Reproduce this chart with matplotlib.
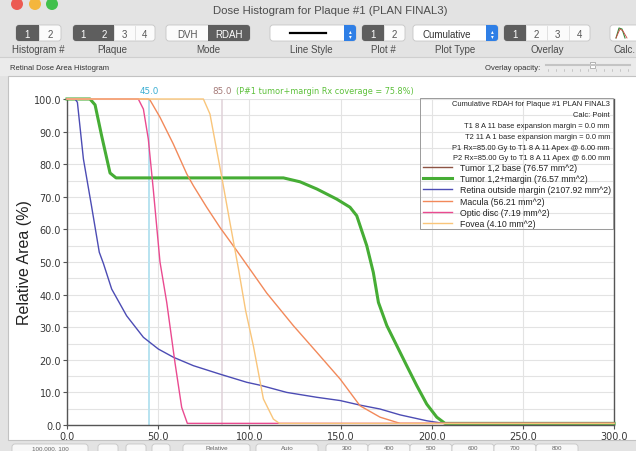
import matplotlib
matplotlib.use('Agg')
import matplotlib.pyplot as plt
from matplotlib.patches import FancyBboxPatch, Rectangle, Circle

# cumulative RDAH, dose (Gy) vs relative area (%)
base_dose = [0, 12.6, 15.4, 19, 23.6, 26.9, 118.7, 127.8, 137, 147.9, 155.2, 158.9,
             164.4, 168, 170.8, 175.4, 180.9, 186.3, 191.8, 197.3, 202.8, 207.3, 300]
base_area = [100, 100, 98.2, 88.7, 77.3, 75.8, 75.8, 74.6, 72.4, 69.3, 66.8, 64.2,
             55, 46.8, 37.6, 30.5, 24.3, 18.2, 12.1, 6.4, 2.4, 0.5, 0.5]

margin_dose = [0, 12.6, 15.4, 19, 23.6, 26.9, 118.7, 127.8, 137, 147.9, 155.2, 158.9,
               164.4, 168, 170.8, 175.4, 180.9, 186.3, 191.8, 197.3, 202.8, 207.3, 300]
margin_area = [100, 100, 98.2, 88.7, 77.3, 75.8, 75.8, 74.6, 72.4, 69.3, 66.8, 64.2,
               55, 46.8, 37.6, 30.5, 24.3, 18.2, 12.1, 6.4, 2.4, 0.5, 0.5]

retina_dose = [0, 4.4, 5.7, 9, 13.5, 17.7, 20, 24.5, 32.7, 41.9, 50.1, 58.3, 69.3, 83.9,
               98.6, 105.9, 120.5, 137, 149.8, 160.7, 171.7, 182.7, 197.3, 206.4, 300]
retina_area = [100, 100, 99, 81.6, 67, 53, 49.5, 41.7, 33.5, 26.9, 23.3, 20.8, 18.2, 15.6,
               13.1, 12.2, 10.0, 8.5, 7.5, 6.1, 4.9, 3.1, 1.3, 0.5, 0.5]

macula_dose = [0, 44.6, 45.5, 51, 58.3, 65.7, 69.3, 76.6, 83.9, 93.1, 102.2, 109.5,
               124.1, 137, 149.8, 160.7, 171.7, 182.7, 300]
macula_area = [100, 100, 99.7, 94.4, 86.2, 77, 73.4, 66.8, 60.6, 53.5, 46.3, 40.5,
               30.5, 22.3, 14.1, 5.9, 2.4, 0.5, 0.5]

disc_dose = [0, 39.1, 41.9, 44.6, 47.3, 51, 54.7, 59.2, 62.9, 66, 300]
disc_area = [100, 100, 96.9, 87.7, 72.4, 50, 37.6, 19.2, 5.4, 0.5, 0.5]

fovea_dose = [0, 74.8, 78.4, 84.9, 89.4, 94, 98, 102.2, 107.7, 113.2, 116.5, 300]
fovea_area = [100, 100, 95.4, 76, 62, 48, 35, 24.3, 8, 1.8, 0.5, 0.5]

labels = ['Tumor 1,2 base (76.57 mm^2)', 'Tumor 1,2+margin (76.57 mm^2)',
          'Retina outside margin (2107.92 mm^2)', 'Macula (56.21 mm^2)',
          'Optic disc (7.19 mm^2)', 'Fovea (4.10 mm^2)']
colors = ['#8d5444', '#46ad35', '#4c4cb4', '#f2895a', '#ea4a90', '#f9c57a']
header = ['Cumulative RDAH for Plaque #1 PLAN FINAL3', 'Calc: Point',
          'T1 8 A 11 base expansion margin = 0.0 mm',
          'T2 11 A 1 base expansion margin = 0.0 mm',
          'P1 Rx=85.00 Gy to T1 8 A 11 Apex @ 6.00 mm',
          'P2 Rx=85.00 Gy to T1 8 A 11 Apex @ 6.00 mm']
rx_dose, ref_dose, coverage = 85.0, 45.0, 75.8

W, H = 636, 452
GUI = 'Liberation Sans'
fig = plt.figure(figsize=(W / 100, H / 100), dpi=100)
fig.patch.set_facecolor('#e3e3e3')

# window chrome, drawn in pixel coordinates
ui = fig.add_axes([0, 0, 1, 1], zorder=0)
ui.set_xlim(0, W)
ui.set_ylim(H, 0)
ui.axis('off')

for cx, c in zip([17, 35, 52], ['#ec5b53', '#f4b63c', '#41c04c']):
    ui.add_patch(Circle((cx, 5), 6, fc=c, ec='none'))
ui.text(330, 11, 'Dose Histogram for Plaque #1 (PLAN FINAL3)', ha='center', va='center',
        fontsize=8.2, color='#4d4d4d', family=GUI)


def seg(x0, x1, names, sel, y0=26, y1=42):
    w = (x1 - x0) / len(names)
    box = FancyBboxPatch((x0, y0), x1 - x0, y1 - y0, boxstyle='round,pad=0,rounding_size=3',
                         fc='#fbfbfb', ec='#c6c6c6', lw=0.6)
    ui.add_patch(box)
    for i, nm in enumerate(names):
        on = i in sel
        if on:
            r = Rectangle((x0 + i * w, y0), w, y1 - y0, fc='#5e5e5e', ec='none')
            ui.add_patch(r)
            r.set_clip_path(box)
        elif i > 0:
            ui.plot([x0 + i * w] * 2, [y0 + 1, y1 - 1], color='#dddddd', lw=0.6)
        ui.text(x0 + (i + .5) * w, (y0 + y1) / 2 + 0.5, nm, ha='center', va='center',
                fontsize=7, color='white' if on else '#555', family=GUI)


def popup(x0, x1, y0=26, y1=42):
    box = FancyBboxPatch((x0, y0), x1 - x0, y1 - y0, boxstyle='round,pad=0,rounding_size=3',
                         fc='white', ec='#c6c6c6', lw=0.6)
    ui.add_patch(box)
    st = Rectangle((x1 - 12, y0), 12, y1 - y0, fc='#2f7fe6', ec='none')
    ui.add_patch(st)
    st.set_clip_path(box)
    ui.text(x1 - 6, (y0 + y1) / 2, '\u25b4\n\u25be', ha='center', va='center', fontsize=4,
            color='white', linespacing=0.8)


seg(16, 61, ['1', '2'], {0})
seg(73, 155, ['1', '2', '3', '4'], {0, 1})
seg(166, 250, ['DVH', 'RDAH'], {1})
popup(270, 356)
ui.plot([290, 326], [34, 34], color='black', lw=1.6)
seg(362, 405, ['1', '2'], {0})
popup(413, 498)
ui.text(447, 34.5, 'Cumulative', ha='center', va='center', fontsize=7, color='#333', family=GUI)
seg(504, 590, ['1', '2', '3', '4'], {0})
ui.add_patch(FancyBboxPatch((610, 26), 34, 16, boxstyle='round,pad=0,rounding_size=3',
                            fc='white', ec='#c6c6c6', lw=0.6))
ui.plot([616, 619, 622, 625], [39, 29, 30, 39], color='#3a8a3a', lw=0.8)
ui.plot([616, 620, 623, 627], [39, 30, 32, 39], color='#d04040', lw=0.6)

for x, t in [(38, 'Histogram #'), (112, 'Plaque'), (208, 'Mode'), (311, 'Line Style'),
             (383, 'Plot #'), (455, 'Plot Type'), (547, 'Overlay')]:
    ui.text(x, 50, t, ha='center', va='center', fontsize=7, color='#4a4a4a', family=GUI)
ui.text(635, 50, 'Calc.', ha='right', va='center', fontsize=7, color='#4a4a4a', family=GUI)

ui.add_patch(Rectangle((0, 58), W, 19, fc='#ebebeb', ec='none'))
ui.plot([0, W], [58, 58], color='#cfcfcf', lw=0.8)
ui.text(10, 68, 'Retinal Dose Area Histogram', ha='left', va='center', fontsize=5.5,
        color='#333', family=GUI)
ui.text(540, 68, 'Overlay opacity:', ha='right', va='center', fontsize=5.5, color='#333',
        family=GUI)
ui.plot([546, 630], [66, 66], color='#c4c4c4', lw=1.5)
for x in range(548, 631, 8):
    ui.plot([x, x], [70, 72], color='#aaaaaa', lw=0.4)
ui.add_patch(Rectangle((590, 63), 5, 6, fc='white', ec='#999999', lw=0.5))

# white plot panel
ui.add_patch(Rectangle((8, 77), W, 364, fc='white', ec='#c2c2c2', lw=0.8))

# bottom status strip (cut off by the window edge)
for x0, x1, t in [(12, 88, '100.000, 100'), (98, 118, ''), (126, 146, ''), (152, 170, ''),
                  (183, 250, 'Relative'), (256, 318, 'Auto')]:
    ui.add_patch(FancyBboxPatch((x0, 445), x1 - x0, 14, boxstyle='round,pad=0,rounding_size=3',
                                fc='#f8f8f8', ec='#c6c6c6', lw=0.6))
    ui.text((x0 + x1) / 2, 448.5, t, ha='center', va='center', fontsize=4.5, color='#666',
            family=GUI)
for i, t in enumerate(['300', '400', '500', '600', '700', '800']):
    x0 = 326 + i * 42
    ui.add_patch(FancyBboxPatch((x0, 445), 42, 14, boxstyle='round,pad=0,rounding_size=3',
                                fc='#f8f8f8', ec='#c6c6c6', lw=0.6))
    ui.text(x0 + 21, 448.5, t, ha='center', va='center', fontsize=4.5, color='#666',
            family=GUI)

# histogram axes
ax = fig.add_axes([67 / W, (H - 426) / H, 547 / W, 326 / H], zorder=1)
ax.set_facecolor('white')

curves = [(base_dose, base_area, 1.0), (margin_dose, margin_area, 2.2),
          (retina_dose, retina_area, 1.0), (macula_dose, macula_area, 1.0),
          (disc_dose, disc_area, 1.0), (fovea_dose, fovea_area, 1.0)]
handles = []
for (d, a, lw), c, lab in zip(curves, colors, labels):
    h, = ax.plot(d, a, color=c, lw=lw, label=lab, clip_on=False, zorder=3)
    handles.append(h)

ax.axvline(ref_dose, color='#b8e3f0', lw=1.4, zorder=2)
ax.axvline(rx_dose, color='#e0d2d9', lw=1.1, zorder=2)
ax.text(ref_dose, 102.6, f'{ref_dose:.1f}', ha='center', va='center', fontsize=6.3,
        color='#3aaed2')
ax.text(rx_dose, 102.6, f'{rx_dose:.1f}', ha='center', va='center', fontsize=6.3,
        color='#a57a78')
ax.text(92.5, 102.6, f'(P#1 tumor+margin Rx coverage = {coverage}%)', ha='left',
        va='center', fontsize=5.9, color='#5cc03a')

ax.set_xlim(0, 300)
ax.set_ylim(0, 100)
ax.set_xticks(range(0, 301, 50))
ax.set_xticklabels([f'{v:.1f}' for v in range(0, 301, 50)])
ax.set_yticks(range(0, 101, 10))
ax.set_yticklabels([f'{v:.1f}' for v in range(0, 101, 10)])
ax.set_yticks(range(5, 100, 10), minor=True)
ax.tick_params(which='major', labelsize=7, labelcolor='#383838', color='#555', length=3,
               width=0.8, pad=1.2)
ax.tick_params(which='minor', length=0)
ax.grid(which='both', axis='y', color='#e3e3e3', lw=0.8, zorder=0)
ax.grid(which='major', axis='x', color='#e3e3e3', lw=0.8, zorder=0)
ax.set_axisbelow(True)
ax.spines['top'].set_visible(False)
for s in ['left', 'bottom', 'right']:
    ax.spines[s].set_color('#555555')
    ax.spines[s].set_linewidth(1.0)
ax.set_ylabel('Relative Area (%)', fontsize=11.5, family=GUI, color='#222', labelpad=1)

leg = ax.legend(handles=handles, loc='upper left', bbox_to_anchor=(423 / W, 1 - 164 / H),
                bbox_transform=fig.transFigure, frameon=False, borderpad=0,
                borderaxespad=0, handlelength=3.3, handletextpad=0.9, labelspacing=0.25,
                prop={'family': GUI, 'size': 6.3})
for t in leg.get_texts():
    t.set_color('#222')

# legend frame and header text, above the axes
top = fig.add_axes([0, 0, 1, 1], zorder=3)
top.set_xlim(0, W)
top.set_ylim(H, 0)
top.axis('off')
top.add_patch(Rectangle((420, 99), 193, 131, fc='none', ec='#9a9a9a', lw=0.7))
for i, t in enumerate(header):
    top.text(610, 104.5 + i * 10.9, t, ha='right', va='center', fontsize=5.4, color='#222',
             family=GUI)

fig.savefig('out.png', dpi=100, facecolor=fig.get_facecolor())
